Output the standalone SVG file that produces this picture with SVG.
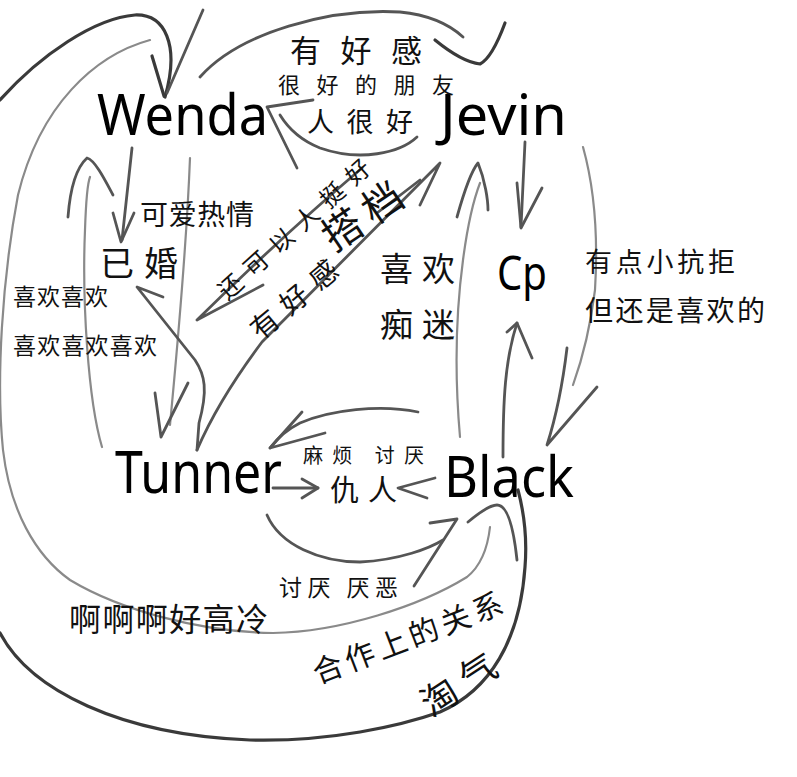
<svg xmlns="http://www.w3.org/2000/svg" width="797" height="777" viewBox="0 0 797 777">
<style>
.dk{fill:none;stroke:#3a3a3a;stroke-width:3.2;stroke-linecap:round;stroke-linejoin:round}
.md{fill:none;stroke:#555;stroke-width:2.8;stroke-linecap:round;stroke-linejoin:round}
.lt{fill:none;stroke:#8a8a8a;stroke-width:2.2;stroke-linecap:round;stroke-linejoin:round}
.nd{font-family:"Noto Sans","DejaVu Sans",sans-serif;fill:#000}
.cj{font-family:"Noto Sans CJK SC",sans-serif;fill:#111;dominant-baseline:central}
</style>
<rect width="797" height="777" fill="#fff"/>
<g id="connectors">
<path class="dk" d="M0,100 C40,55 95,18 135,15 C165,14 180,45 165,97"/>
<path class="dk" d="M152,56 L164,96"/>
<path class="md" d="M203,10 L167,93"/>
<path class="lt" d="M150,40 C95,55 40,105 18,195 C2,280 -4,380 3,450 C10,510 35,555 70,580 C120,610 200,632 273,633 C340,632 420,606 467,577 C482,565 488,545 490,527"/>
<path class="md" d="M468,522 C480,512 490,505 497,505 C506,505 513,522 517,560"/>
<path class="dk" d="M0,633 C30,690 120,735 250,740 C330,742 400,726 440,712 C490,690 520,640 525,567 C528,530 522,505 518,490"/>
<path class="md" d="M200,77 C240,32 330,8 400,12 C430,15 450,25 463,37"/>
<path class="dk" d="M435,40 Q462,62 480,64 Q492,58 505,23"/>
<path class="md" d="M417,137 C400,153 360,162 320,148 C300,140 288,128 280,115"/>
<path class="md" d="M313,100 L267,107 L297,168"/>
<path class="md" d="M132,148 L122,240"/>
<path class="md" d="M113,213 L121,242 L134,213"/>
<path class="lt" d="M102,447 C88,400 82,300 85,230 C86,200 88,182 90,177"/>
<path class="md" d="M68,217 C70,190 76,168 87,158 C95,160 105,180 113,195"/>
<path class="lt" d="M190,158 C186,260 176,360 170,425"/>
<path class="md" d="M155,393 L161,437 L188,383"/>
<path class="md" d="M197,450 L199,423 C208,390 205,375 195,360 L137,287 L163,297"/>
<path class="md" d="M362,168 Q280,238 197,320 L263,285"/>
<path class="md" d="M197,450 C212,415 235,378 262,342 L440,163 L420,205"/>
<path class="md" d="M377,213 L420,180"/>
<path class="md" d="M525,142 L521,227"/>
<path class="md" d="M517,183 L521,228 L542,188"/>
<path class="lt" d="M583,147 C595,190 598,240 595,290 C590,330 582,360 573,385"/>
<path class="md" d="M567,348 C562,390 555,420 547,445 L597,387"/>
<path class="lt" d="M460,437 C455,380 455,320 463,260 C468,222 475,196 480,183"/>
<path class="md" d="M457,217 C464,192 472,170 478,163 C485,180 488,200 488,210"/>
<path class="md" d="M503,457 C503,400 505,360 517,323"/>
<path class="md" d="M507,332 L517,323 L532,358"/>
<path class="md" d="M418,412 C380,404 330,410 300,423 C286,430 276,440 270,448"/>
<path class="md" d="M302,412 L270,448 L325,433"/>
<path class="md" d="M273,488 L318,488"/>
<path class="md" d="M302,479 L318,488 L302,498"/>
<path class="md" d="M435,478 L398,488 L427,498"/>
<path class="md" d="M267,515 C280,545 320,562 360,562 C400,560 430,548 443,540"/>
<path class="md" d="M430,523 L457,519 L414,586"/>
</g>
<g id="node-wenda"><text class="nd" x="97" y="135" font-size="57" textLength="171" lengthAdjust="spacingAndGlyphs">Wenda</text></g>
<g id="node-jevin"><text class="nd" x="440" y="135" font-size="56" textLength="127" lengthAdjust="spacingAndGlyphs">Jevin</text></g>
<g id="node-cp"><text class="nd" x="497" y="290" font-size="48" textLength="50" lengthAdjust="spacingAndGlyphs">Cp</text></g>
<g id="node-tunner"><text class="nd" x="115" y="493" font-size="58" textLength="167" lengthAdjust="spacingAndGlyphs">Tunner</text></g>
<g id="node-black"><text class="nd" x="444" y="497" font-size="56" textLength="130" lengthAdjust="spacingAndGlyphs">Black</text></g>
<g id="node-married"><text class="cj" x="100" y="261" font-size="34" textLength="78" lengthAdjust="spacing">已婚</text></g>
<g id="labels">
<text class="cj" x="290" y="48" font-size="31" textLength="132" lengthAdjust="spacing">有好感</text>
<text class="cj" x="278" y="83" font-size="22" textLength="176" lengthAdjust="spacing">很好的朋友</text>
<text class="cj" x="307" y="120" font-size="27" textLength="106" lengthAdjust="spacing">人很好</text>
<text class="cj" x="140" y="213" font-size="28" textLength="114" lengthAdjust="spacing">可爱热情</text>
<text class="cj" x="13" y="295" font-size="23" textLength="95" lengthAdjust="spacing">喜欢喜欢</text>
<text class="cj" x="13" y="344" font-size="23" textLength="144" lengthAdjust="spacing">喜欢喜欢喜欢</text>
<text class="cj" x="380" y="267" font-size="33" textLength="75" lengthAdjust="spacing">喜欢</text>
<text class="cj" x="380" y="323" font-size="33" textLength="75" lengthAdjust="spacing">痴迷</text>
<text class="cj" x="585" y="260" font-size="27" textLength="150" lengthAdjust="spacing">有点小抗拒</text>
<text class="cj" x="585" y="309" font-size="28" textLength="180" lengthAdjust="spacing">但还是喜欢的</text>
<text class="cj" x="303" y="454" font-size="20" textLength="121" lengthAdjust="spacing">麻烦 讨厌</text>
<text class="cj" x="330" y="488" font-size="29" textLength="67" lengthAdjust="spacing">仇人</text>
<text class="cj" x="279" y="586" font-size="23" textLength="119" lengthAdjust="spacing">讨厌 厌恶</text>
<text class="cj" x="69" y="617" font-size="32" textLength="199" lengthAdjust="spacing">啊啊啊好高冷</text>
<text class="cj" text-anchor="middle" font-size="24" textLength="195" lengthAdjust="spacing" transform="translate(293,228) rotate(-42)">还可以人挺好</text>
<text class="cj" text-anchor="middle" font-size="40" textLength="88" lengthAdjust="spacing" transform="translate(361,214) rotate(-34)">搭档</text>
<text class="cj" text-anchor="middle" font-size="28" textLength="105" lengthAdjust="spacing" transform="translate(293,298) rotate(-40)">有好感</text>
<text class="cj" text-anchor="middle" font-size="30" textLength="201" lengthAdjust="spacing" transform="translate(407,636) rotate(-21)">合作上的关系</text>
<text class="cj" text-anchor="middle" font-size="36" textLength="82" lengthAdjust="spacing" transform="translate(457,682) rotate(-33)">淘气</text>
</g>
</svg>
